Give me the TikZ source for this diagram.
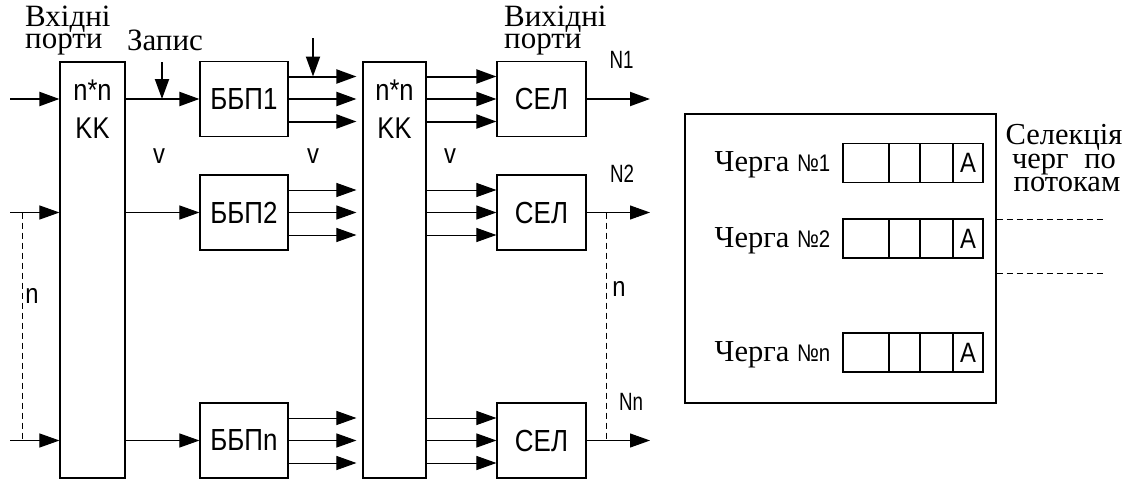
\documentclass[tikz,border=0pt]{standalone}
\usepackage{fontspec}
\setmainfont{Liberation Serif}
\newfontfamily\lsans[FakeStretch=0.85]{Liberation Sans}
\newfontfamily\lsanc[FakeStretch=0.75]{Liberation Sans}
\usetikzlibrary{arrows.meta}
\tikzset{
  box/.style={draw, line width=1.1pt, inner sep=0pt},
  lab/.style={inner sep=0pt, font=\lsans\fontsize{30}{30}\selectfont},
  blab/.style={inner sep=0pt, font=\lsans\fontsize{30.5}{30}\selectfont},
  vlab/.style={inner sep=0pt, font=\lsans\fontsize{28}{30}\selectfont},
  small/.style={inner sep=0pt, font=\lsanc\fontsize{25}{25}\selectfont},
  sertxt/.style={inner sep=0pt, font=\fontsize{31}{31}\selectfont},
  bigtxt/.style={inner sep=0pt, font=\fontsize{30.5}{30}\selectfont},
  thk/.style={line width=2pt, -{Triangle[length=20pt,width=14pt]}},
  thn/.style={line width=1pt, -{Triangle[length=20pt,width=14pt]}},
  dsh/.style={line width=1pt, dash pattern=on 6pt off 4pt},
  cell/.style={draw, line width=1.1pt, inner sep=0pt, minimum height=39pt, font=\lsans\fontsize{28}{30}\selectfont},
}
\begin{document}
\begin{tikzpicture}[x=1pt,y=-1pt]
\useasboundingbox (0,0) rectangle (1132,479);
% switches
\node[box, minimum width=65pt, minimum height=416pt] (kk1) at (92.5,270) {};
\node[box, minimum width=63pt, minimum height=416pt] (kk2) at (394.5,270) {};
\node[lab, anchor=base] (kk1a) at (92.5,100) {n*n};
\node[lab, anchor=base] (kk1b) at (92.5,138) {KK};
\node[lab, anchor=base] (kk2a) at (394.5,100) {n*n};
\node[lab, anchor=base] (kk2b) at (394.5,138) {KK};
% buffers
\node[box, blab, minimum width=88pt, minimum height=75pt] (bbp1) at (244,99) {ББП1};
\node[box, blab, minimum width=88pt, minimum height=75pt] (bbp2) at (244,212.5) {ББП2};
\node[box, blab, minimum width=88pt, minimum height=75pt] (bbpn) at (244,440.5) {ББПn};
% selectors
\node[box, blab, minimum width=89pt, minimum height=75pt] (sel1) at (541.5,99) {СЕЛ};
\node[box, blab, minimum width=89pt, minimum height=75pt] (sel2) at (541.5,212.5) {СЕЛ};
\node[box, blab, minimum width=89pt, minimum height=75pt] (seln) at (541.5,440.5) {СЕЛ};
% inputs
\coordinate (i1) at (10,99);
\coordinate (i2) at (10,212.5);
\coordinate (in) at (10,440.5);
\draw[thk] (i1) -- (i1 -| kk1.west);
\draw[thn] (i2) -- (i2 -| kk1.west);
\draw[thn] (in) -- (in -| kk1.west);
% kk1 -> buffers
\draw[thk] (bbp1.west -| kk1.east) -- (bbp1.west);
\draw[thn] (bbp2.west -| kk1.east) -- (bbp2.west);
\draw[thn] (bbpn.west -| kk1.east) -- (bbpn.west);
% buffers -> kk2, kk2 -> selectors
\foreach \r/\s in {1/thk, 2/thn, n/thn} {
  \foreach \k/\m in {22.5/a, 0/b, -22.5/c} {
    \path ([yshift=\k pt]bbp\r.east) coordinate (bo\r\m);
    \draw[\s, shorten >=6pt] (bo\r\m) -- (bo\r\m -| kk2.west);
    \path ([yshift=\k pt]sel\r.west) coordinate (si\r\m);
    \draw[\s] (si\r\m -| kk2.east) -- (si\r\m);
  }
}
% outputs
\coordinate (o1) at (650,99);
\coordinate (o2) at (650,212.5);
\coordinate (on) at (650,440.5);
\draw[thk] (sel1.east) -- (o1);
\draw[thn] (sel2.east) -- (o2);
\draw[thn] (seln.east) -- (on);
% write strobes
\coordinate (zap) at (162,62);
\draw[thk] (zap) -- (zap |- bbp1.west);
\coordinate (wr) at (313,38);
\draw[thk] (wr) -- (wr |- bo1a);
% dashed n
\coordinate (dl) at (22,212.5);
\draw[dsh] (dl) -- (dl |- in);
\coordinate (dr) at (606,212.5);
\draw[dsh] (dr) -- (dr |- on);
% labels
\node[sertxt, anchor=base west] (vp1) at (25,26) {Вхідні};
\node[sertxt, anchor=base west] (vp2) at (25,48) {порти};
\node[sertxt, anchor=base] (zp) at (165,50) {Запис};
\node[sertxt, anchor=base west] (wp1) at (504,26) {Вихідні};
\node[sertxt, anchor=base west] (wp2) at (504,48) {порти};
\node[vlab, anchor=base] (v1) at (159,163) {v};
\node[vlab, anchor=base] (v2) at (313,163) {v};
\node[vlab, anchor=base] (v3) at (450,163) {v};
\node[small, anchor=base] (n1) at (621.5,68) {N1};
\node[small, anchor=base] (n2) at (622,182) {N2};
\node[small, anchor=base] (nn) at (631,410) {Nn};
\node[vlab, anchor=base] (nl) at (32,303) {n};
\node[vlab, anchor=base] (nr) at (619,296) {n};
% queue panel
\node[draw, line width=1.2pt, minimum width=311pt, minimum height=289pt] (q) at (840.5,258.5) {};
\foreach \r/\y in {1/163, 2/238.5, n/352.5} {
  \node[cell, minimum width=46pt] (c\r a) at (866,\y) {};
  \node[cell, minimum width=31pt] (c\r b) at (904.5,\y) {};
  \node[cell, minimum width=33pt] (c\r c) at (936.5,\y) {};
  \node[cell, minimum width=30pt] (c\r d) at (968,\y) {A};
  \node[bigtxt, anchor=base east] (ql\r) at ([yshift=-8.5pt,xshift=-12pt]c\r a.west) {Черга {\lsans\fontsize{24}{24}\selectfont №\r}};
}
\coordinate (d1) at (1103,219);
\coordinate (d2) at (1103,273);
\draw[dsh] (d1 -| q.east) -- (d1);
\draw[dsh] (d2 -| q.east) -- (d2);
\node[bigtxt, anchor=base] (s1) at (1064,144) {Селекція};
\node[bigtxt, anchor=base] (s2) at (1064,168) {\makebox[104pt][s]{черг\hfill по}};
\node[bigtxt, anchor=base] (s3) at (1067,191) {потокам};
\end{tikzpicture}
\end{document}
